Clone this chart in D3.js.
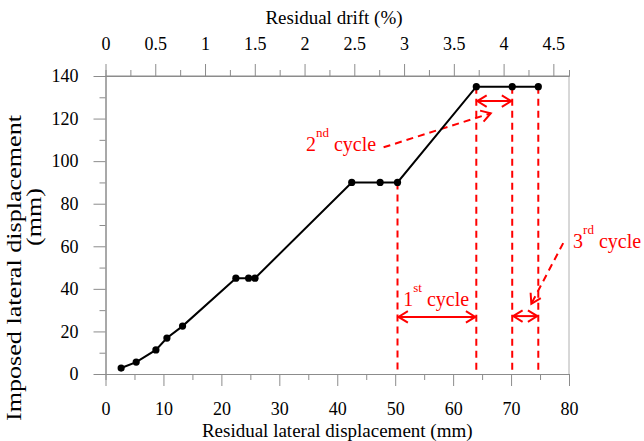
<!DOCTYPE html>
<html>
<head>
<meta charset="utf-8">
<script src="https://cdn.jsdelivr.net/npm/d3@7"></script>
<style>
  body { margin: 0; background: #fff; }
  svg text { font-family: "Liberation Serif", "Times New Roman", serif; }
</style>
</head>
<body>
<svg id="chart" width="644" height="441"></svg>
<script>
// measured points (mm)
var residual = [2.7, 5.3, 8.7, 10.6, 13.3, 22.5, 24.7, 25.8, 42.5, 47.4, 50.4, 64.0, 70.2, 74.7];
var imposed = [2.8, 5.6, 11.3, 16.9, 22.5, 45, 45, 45, 90, 90, 90, 135, 135, 135];

// axis ticks
var xTicks = [0, 10, 20, 30, 40, 50, 60, 70, 80];
var yTicks = [0, 20, 40, 60, 80, 100, 120, 140];
var driftTicks = [0, 0.5, 1, 1.5, 2, 2.5, 3, 3.5, 4, 4.5];

// cycle annotations
var cycleLines = [50.4, 64.0, 70.2, 74.7]; // red dashed verticals
var cycleTops = [90, 135, 135, 135];
var cycleSpans = [[50.4, 64.0, 26.8], [64.0, 70.2, 128.2], [70.2, 74.7, 27.2]];
var cycleNames = [["1", "st"], ["2", "nd"], ["3", "rd"]];
var cycleLabelPos = [[51.4, 31.9], [34.6, 104.8], [80.7, 59.2]];
var pointerLines = [null, [[48.0, 106.5], [66.5, 122.5]], [[79.0, 61.5], [73.5, 33.0]]];

var svg = d3.select("#chart");
var red = "#ff0000", axisGray = "#8c8c8c";

var x = d3.scaleLinear().domain([0, 80]).range([105.5, 569]);
var y = d3.scaleLinear().domain([0, 140]).range([374, 76]);
var drift = d3.scaleLinear().domain([0, 80 * 4.5 / 77.3]).range([105.5, 569]);

// right border
svg.append("line")
  .attr("x1", x(80)).attr("x2", x(80))
  .attr("y1", y(0)).attr("y2", y(140))
  .attr("stroke", "#b0b0b0").attr("stroke-width", 1);

function styleAxis(g) {
  g.selectAll("path, line").attr("stroke", axisGray).attr("stroke-width", 1);
  g.selectAll("text").attr("fill", "#000").style("font-size", "18px");
}

// minor ticks
svg.append("g").attr("transform", "translate(0," + y(0) + ")")
  .call(d3.axisBottom(x).tickValues(d3.range(5, 80, 10)).tickSize(6).tickFormat(""))
  .call(styleAxis);
svg.append("g").attr("transform", "translate(" + x(0) + ",0)")
  .call(d3.axisLeft(y).tickValues(d3.range(10, 140, 20)).tickSize(6).tickFormat(""))
  .call(styleAxis);
svg.append("g").attr("transform", "translate(0," + y(140) + ")")
  .call(d3.axisTop(drift).tickValues(d3.range(0.25, 4.5, 0.5)).tickSize(6).tickFormat(""))
  .call(styleAxis);

// major axes
svg.append("g").attr("transform", "translate(0," + y(0) + ")")
  .call(d3.axisBottom(x).tickValues(xTicks).tickSize(12).tickPadding(16).tickSizeOuter(0))
  .call(styleAxis);
svg.append("g").attr("transform", "translate(" + x(0) + ",0)")
  .call(d3.axisLeft(y).tickValues(yTicks).tickSize(12).tickPadding(15).tickSizeOuter(0))
  .call(styleAxis);
var topAxis = svg.append("g").attr("transform", "translate(0," + y(140) + ")")
  .call(d3.axisTop(drift).tickValues(driftTicks).tickFormat(d3.format("")).tickSize(12).tickPadding(14).tickSizeOuter(0))
  .call(styleAxis);
topAxis.select(".domain").attr("d", "M" + x(0) + ",0H" + x(80));

// axis titles
svg.append("text").attr("x", x(40)).attr("y", 437)
  .attr("text-anchor", "middle").style("font-size", "19px")
  .text("Residual lateral displacement (mm)");
svg.append("text").attr("x", 334).attr("y", 24)
  .attr("text-anchor", "middle").style("font-size", "19px")
  .text("Residual drift (%)");
// y title runs longer in the original
svg.append("text").attr("transform", "translate(21,268) rotate(-90)")
  .attr("text-anchor", "middle").style("font-size", "21px")
  .attr("textLength", 306).attr("lengthAdjust", "spacingAndGlyphs")
  .text("Imposed lateral displacement");
svg.append("text").attr("transform", "translate(41,217) rotate(-90)")
  .attr("text-anchor", "middle").style("font-size", "21px")
  .attr("textLength", 58).attr("lengthAdjust", "spacingAndGlyphs")
  .text("(mm)");

// red dashed verticals
svg.append("g").selectAll("line")
  .data(cycleLines)
  .enter().append("line")
  .attr("x1", function (d) { return x(d); })
  .attr("x2", function (d) { return x(d); })
  .attr("y1", function (d, i) { return y(cycleTops[i]); })
  .attr("y2", y(1.5))
  .attr("stroke", red).attr("stroke-width", 2)
  .attr("stroke-dasharray", "7,5");

// open arrow head helper
function head(g, tx, ty, fx, fy) {
  var a = Math.atan2(ty - fy, tx - fx), L = 11, w = 0.55;
  var p1 = [tx - L * Math.cos(a - w), ty - L * Math.sin(a - w)];
  var p2 = [tx - L * Math.cos(a + w), ty - L * Math.sin(a + w)];
  g.append("path")
    .attr("d", "M" + p1 + "L" + tx + "," + ty + "L" + p2)
    .attr("fill", "none").attr("stroke", red).attr("stroke-width", 2);
}

// double arrows
cycleSpans.forEach(function (s) {
  var g = svg.append("g");
  var x0 = x(s[0]) + 1, x1 = x(s[1]) - 1, yy = y(s[2]);
  g.append("line").attr("x1", x0).attr("x2", x1).attr("y1", yy).attr("y2", yy)
    .attr("stroke", red).attr("stroke-width", 2);
  head(g, x0, yy, x1, yy);
  head(g, x1, yy, x0, yy);
});

// pointer arrows
pointerLines.forEach(function (p) {
  if (!p) return;
  var g = svg.append("g");
  var ax = x(p[0][0]), ay = y(p[0][1]), bx = x(p[1][0]), by = y(p[1][1]);
  g.append("line").attr("x1", ax).attr("y1", ay).attr("x2", bx).attr("y2", by)
    .attr("stroke", red).attr("stroke-width", 2).attr("stroke-dasharray", "7,5");
  head(g, bx, by, ax, ay);
});

// cycle labels
cycleNames.forEach(function (n, i) {
  var t = svg.append("text")
    .attr("x", x(cycleLabelPos[i][0])).attr("y", y(cycleLabelPos[i][1]))
    .attr("fill", red).style("font-size", "20px");
  t.append("tspan").text(n[0]);
  t.append("tspan").attr("dy", -14).style("font-size", "13px").text(n[1]);
  t.append("tspan").attr("dy", 14).attr("dx", 5).text("cycle");
});

// data line and markers
var pts = residual.map(function (d, i) { return [d, imposed[i]]; });
svg.append("path")
  .datum(pts)
  .attr("fill", "none").attr("stroke", "#000").attr("stroke-width", 2)
  .attr("d", d3.line().x(function (d) { return x(d[0]); }).y(function (d) { return y(d[1]); }));
svg.append("g").selectAll("circle")
  .data(pts)
  .enter().append("circle")
  .attr("cx", function (d) { return x(d[0]); })
  .attr("cy", function (d) { return y(d[1]); })
  .attr("r", 3.6).attr("fill", "#000");
</script>
</body>
</html>
